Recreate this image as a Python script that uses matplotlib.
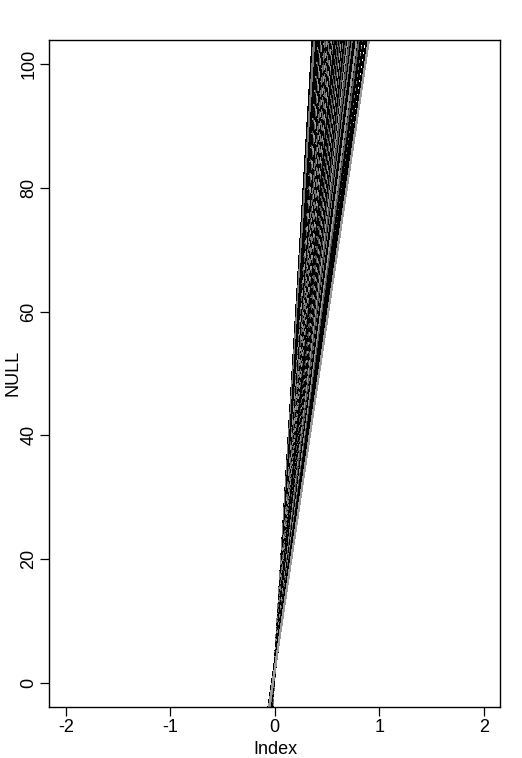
import matplotlib
matplotlib.use("Agg")
import matplotlib.pyplot as plt
import numpy as np

# abline-style lines: y = intercept + slope * x
slopes = [280, 268, 255, 246, 240, 236, 233, 232, 230, 229, 227, 226, 225, 223,
          222, 221, 220, 219, 218, 217, 216, 215, 214, 213, 212, 211, 210, 209,
          208, 207, 206, 205, 204, 204, 203, 202, 201, 200, 200, 199, 198, 197,
          197, 196, 195, 194, 194, 193, 192, 191, 191, 190, 189, 188, 188, 187,
          186, 185, 185, 184, 183, 182, 182, 181, 180, 179, 179, 178, 177, 176,
          176, 175, 174, 173, 173, 172, 171, 170, 170, 169, 168, 167, 167, 166,
          165, 164, 164, 163, 162, 161, 161, 160, 159, 158, 157, 157, 156, 155,
          154, 153, 152, 151, 150, 149, 148, 147, 146, 145, 144, 143, 142, 141,
          139, 136, 133, 131, 129, 127, 125, 123, 120, 118, 115, 113]
intercepts = [2.5, 3.0, 2.2, 2.8, 1.9, 3.1, 2.4, 2.0, 2.7, 3.3, 1.8, 2.6, 2.1, 3.0,
              2.4, 1.7, 2.9, 2.2, 3.2, 2.5, 1.9, 2.8, 2.3, 3.1, 2.0, 2.6, 2.9, 1.8,
              2.4, 3.0, 2.1, 2.7, 2.3, 1.9, 3.2, 2.5, 2.0, 2.8, 2.2, 3.0, 2.6, 1.8,
              2.4, 2.9, 2.1, 3.1, 2.3, 2.7, 1.9, 2.5, 3.0, 2.2, 2.6, 1.8, 2.9, 2.4,
              2.0, 3.1, 2.6, 2.2, 2.8, 1.9, 2.4, 2.7, 2.5, 3.0, 2.2, 2.8, 1.9, 3.1,
              2.4, 2.0, 2.7, 3.3, 1.8, 2.6, 2.1, 3.0, 2.4, 1.7, 2.9, 2.2, 3.2, 2.5,
              1.9, 2.8, 2.3, 3.1, 2.0, 2.6, 2.9, 1.8, 2.4, 3.0, 2.1, 2.7, 2.3, 1.9,
              3.2, 2.5, 2.0, 2.8, 2.2, 3.0, 2.6, 1.8, 2.4, 2.9, 2.1, 3.1, 2.3, 2.7,
              1.9, 2.5, 3.0, 2.2, 2.6, 1.8, 2.9, 2.4, 2.0, 3.1, 2.6, 2.2]

x_ticks = [-2, -1, 0, 1, 2]
y_ticks = [0, 20, 40, 60, 80, 100]

plt.rcParams["font.family"] = ["Liberation Sans", "DejaVu Sans"]

fig = plt.figure(figsize=(5.22, 7.58), dpi=100)
ax = fig.add_axes([49 / 522, 1 - 707 / 758, 451 / 522, 667 / 758])

xx = np.array([-2.16, 2.16])
colors = ["black", "#777777", "black", "black", "#999999", "black", "#555555"]
for i, (a, b) in enumerate(zip(intercepts, slopes)):
    ax.plot(xx, a + b * xx, color=colors[i % len(colors)], lw=0.9,
            antialiased=False)

ax.set_xlim(-2.16, 2.155)
ax.set_ylim(-3.9, 103.9)
ax.set_xticks(x_ticks)
ax.set_yticks(y_ticks)
ax.set_xticklabels([str(t) for t in x_ticks], fontsize=13)
ax.set_yticklabels([str(t) for t in y_ticks], fontsize=13, rotation=90, va="center")
ax.tick_params(direction="out", length=6.5, width=0.9, pad=2)
for s in ax.spines.values():
    s.set_linewidth(1.0)
fig.text(275 / 522, 1 - 754 / 758, "Index", fontsize=13,
         ha="center", va="baseline")
fig.text(13 / 522, 1 - 373 / 758, "NULL", fontsize=13, rotation=90,
         ha="center", va="center")

fig.savefig("out.png", dpi=100)
